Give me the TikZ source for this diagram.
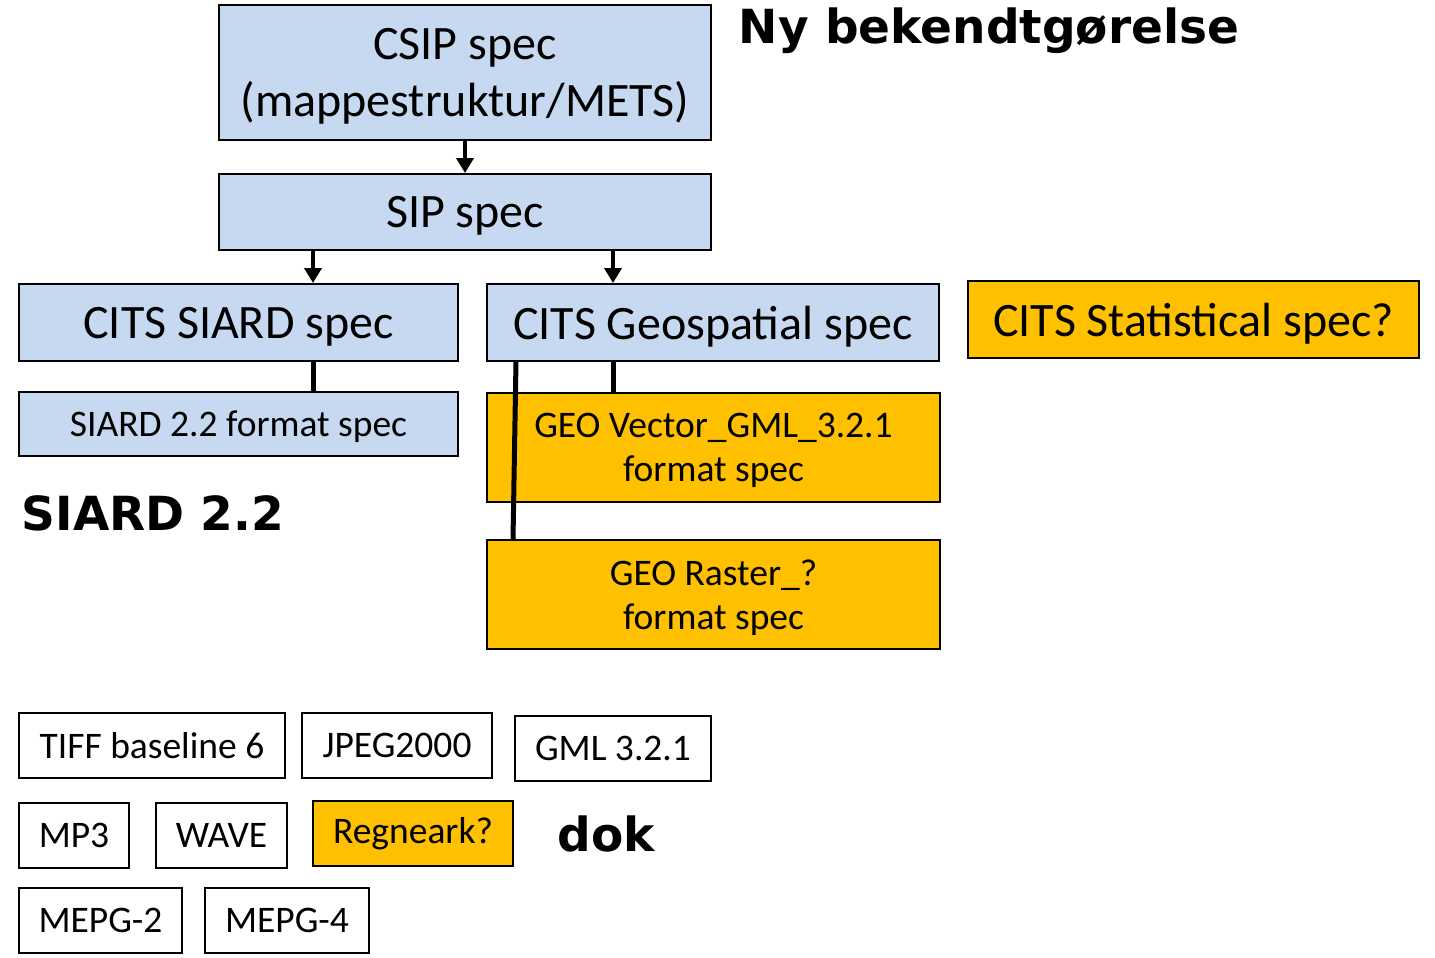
\documentclass[tikz,border=0pt]{standalone}
\usepackage{fontspec}
\setmainfont{Carlito}
\newfontfamily\heavyfont{DejaVu Sans}
\usetikzlibrary{arrows.meta}
\definecolor{boxblue}{RGB}{198,217,240}
\definecolor{boxorange}{RGB}{255,192,0}
\tikzset{
  bx/.style={draw=black,line width=2pt,inner sep=0pt},
  bluebox/.style={bx,fill=boxblue},
  orangebox/.style={bx,fill=boxorange},
  whitebox/.style={bx,fill=white},
  txt/.style={inner sep=0pt,align=center},
  big/.style={txt,font=\fontsize{48}{57}\selectfont,yshift=-4pt},
  mid/.style={txt,font=\fontsize{37.5}{44}\selectfont,yshift=-3pt},
  midb/.style={txt,font=\fontsize{37.5}{44}\selectfont},
  heavy/.style={font=\heavyfont\bfseries\fontsize{47}{52}\selectfont,inner sep=0pt},
  arr/.style={line width=4.5pt,-{Triangle[width=17pt,length=15pt]}},
  link/.style={line width=5pt},
}
\newcommand{\bxnode}[8]{% box style, text style, name, x1,y1,x2,y2, text
  \node[#1,minimum width={#6-#4},minimum height={#7-#5}] (#3) at ({(#4+#6)/2},{(#5+#7)/2}) {};
  \node[#2] (#3-t) at (#3.center) {#8};}
\begin{document}
\begin{tikzpicture}[x=1pt,y=-1pt]
\useasboundingbox (0,0) rectangle (1435,958);
% top
\bxnode{bluebox}{big}{csip}{219}{5}{711}{140}{CSIP spec\\(mappestruktur/METS)}
\bxnode{bluebox}{big}{sip}{219}{174}{711}{250}{SIP spec}
\bxnode{bluebox}{big}{siard}{19}{284}{458}{361}{CITS SIARD spec}
\bxnode{bluebox}{big}{geo}{487}{284}{939}{361}{CITS Geospatial spec}
\bxnode{orangebox}{big}{stat}{968}{281}{1419}{358}{CITS Statistical spec?}
\bxnode{bluebox}{mid}{sfmt}{19}{392}{458}{456}{SIARD 2.2 format spec}
\bxnode{orangebox}{mid}{vec}{487}{393}{940}{502}{GEO Vector\_GML\_3.2.1\\format spec}
\bxnode{orangebox}{mid}{ras}{487}{540}{940}{649}{GEO Raster\_?\\format spec}
% headings
\node[heavy] (ny) at (989,31) {Ny bekendtgørelse};
\node[heavy] (s22) at (153,513) {SIARD 2.2};
\node[heavy] (dok) at (606,834) {dok};
% bottom boxes
\bxnode{whitebox}{midb}{tiff}{19}{713}{285}{778}{TIFF baseline 6}
\bxnode{whitebox}{midb}{jpeg}{302}{713}{492}{778}{JPEG2000}
\bxnode{whitebox}{midb}{gml}{515}{716}{711}{781}{GML 3.2.1}
\bxnode{whitebox}{midb}{mp3}{19}{803}{129}{868}{MP3}
\bxnode{whitebox}{midb}{wave}{156}{803}{287}{868}{WAVE}
\bxnode{orangebox}{midb}{regn}{313}{801}{513}{866}{Regneark?}
\bxnode{whitebox}{midb}{mpeg2}{19}{888}{182}{953}{MEPG-2}
\bxnode{whitebox}{midb}{mpeg4}{205}{888}{369}{953}{MEPG-4}
% connectors
\draw[arr] (csip.south) -- (sip.north);
\coordinate (sa) at (313,250);
\coordinate (sb) at (613,250);
\draw[arr] (sa) -- (sa |- siard.north);
\draw[arr] (sb) -- (sb |- geo.north);
\draw[link] (siard.south -| sa) -- (sfmt.north -| sa);
\draw[link] (geo.south -| sb) -- (vec.north -| sb);
\coordinate (g1) at (516,361);
\coordinate (g2) at (513,540);
\draw[link] (g1) -- (g2);
\end{tikzpicture}
\end{document}
